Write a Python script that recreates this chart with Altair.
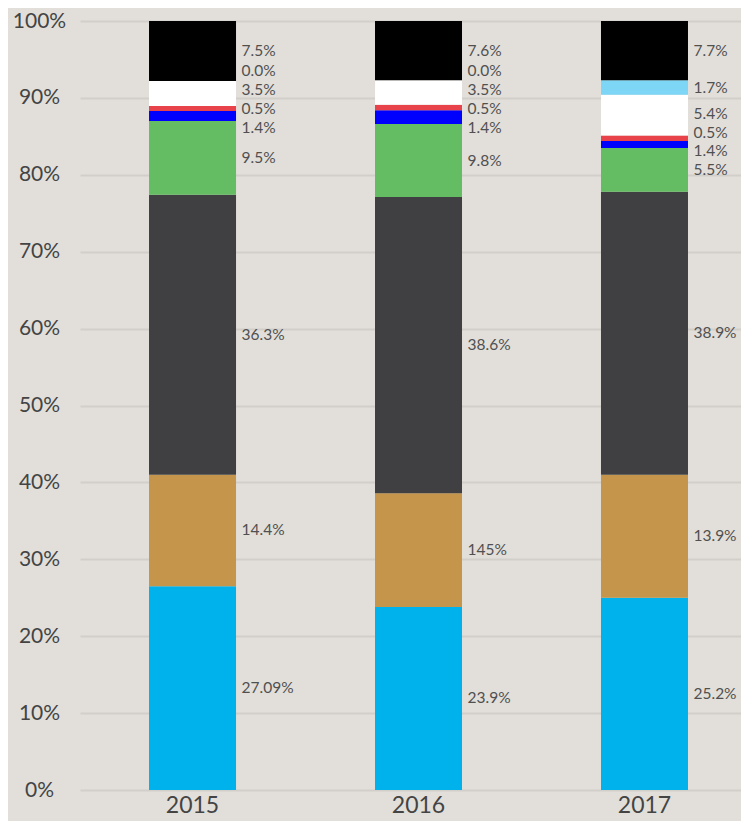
import altair as alt
import pandas as pd

years = ["2015", "2016", "2017"]
series = ["Segment 1", "Segment 2", "Segment 3", "Segment 4", "Segment 5",
          "Segment 6", "Segment 7", "Segment 8", "Segment 9"]
colors = ["#00B2EC", "#C4954A", "#404042", "#64BD62", "#0000FF",
          "#E8424A", "#FFFFFF", "#7DD6F5", "#000000"]

# segment heights (bottom to top)
values_2015 = [26.5, 14.5, 36.4, 9.6, 1.3, 0.66, 3.24, 0.0, 7.8]
values_2016 = [23.8, 14.8, 38.5, 9.5, 1.8, 0.7, 3.2, 0.0, 7.7]
values_2017 = [25.0, 16.0, 36.8, 5.7, 0.9, 0.7, 5.3, 1.9, 7.7]

# label texts as printed on the chart
labels_2015 = ["27.09%", "14.4%", "36.3%", "9.5%", "1.4%", "0.5%", "3.5%", "0.0%", "7.5%"]
labels_2016 = ["23.9%", "145%", "38.6%", "9.8%", "1.4%", "0.5%", "3.5%", "0.0%", "7.6%"]
labels_2017 = ["25.2%", "13.9%", "38.9%", "5.5%", "1.4%", "0.5%", "5.4%", "1.7%", "7.7%"]

all_values = [values_2015, values_2016, values_2017]
all_labels = [labels_2015, labels_2016, labels_2017]

GAP = 0.0245
rows = []
for year, vals, labs in zip(years, all_values, all_labels):
    total = sum(vals)
    cum = 0.0
    centers = []
    for v in vals:
        lo = cum / total
        cum += v
        hi = cum / total
        centers.append((lo + hi) / 2)
    pos = list(centers)
    for _ in range(500):
        for i in range(len(pos) - 1):
            d = pos[i + 1] - pos[i]
            if d < GAP:
                s = (GAP - d) / 2
                pos[i] -= s
                pos[i + 1] += s
    top_shift = max(0.0, pos[-1] - 0.962)
    for i, (v, lab) in enumerate(zip(vals, labs)):
        rows.append({"year": year, "series": series[i], "idx": i, "value": v,
                     "label": lab, "label_y": pos[i]})

df = pd.DataFrame(rows)

FONT = "Lato"
x_scale = alt.Scale(paddingInner=0.615, paddingOuter=0.27, align=0.5656)
y_scale = alt.Scale(domain=[0, 1])

y_axis = alt.Axis(title=None, values=[i / 10 for i in range(11)], format=".0%",
                  labelAlign="center", labelPadding=41, ticks=False, tickSize=0,
                  domain=False, grid=True, gridColor="#D2CEC9", gridWidth=2,
                  labelFontSize=21, labelFont=FONT, labelColor="#444444")
x_axis = alt.Axis(title=None, labelAngle=0, domain=False, ticks=False,
                  labelFontSize=23, labelFont=FONT, labelColor="#444444",
                  labelPadding=4, grid=False)

base = alt.Chart(df)

bars = base.mark_bar().encode(
    x=alt.X("year:N", scale=x_scale, sort=years, axis=x_axis),
    y=alt.Y("value:Q", stack="normalize", scale=y_scale, axis=y_axis),
    color=alt.Color("series:N", scale=alt.Scale(domain=series, range=colors), legend=None),
    order=alt.Order("idx:Q", sort="ascending"),
)

texts = base.mark_text(align="left", baseline="middle", dx=49, fontSize=15.5,
                       font=FONT, color="#505050").encode(
    x=alt.X("year:N", scale=x_scale, sort=years, axis=x_axis),
    y=alt.Y("label_y:Q", scale=y_scale, axis=y_axis),
    text="label:N",
)

chart = alt.layer(bars, texts).properties(
    width=661,
    height=769,
    autosize=alt.AutoSizeParams(type="none"),
    padding={"left": 72, "top": 13, "right": 0, "bottom": 31},
    background="#E2DFDA",
).configure_view(strokeWidth=0)

chart.save("out.html", embed_options={"renderer": "svg", "actions": False})
